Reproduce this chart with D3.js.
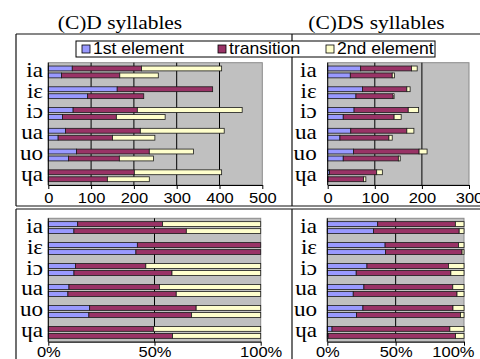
<!DOCTYPE html>
<html>
<head>
<meta charset="utf-8">
<script src="https://cdn.jsdelivr.net/npm/d3@7"></script>
<style>
  html, body { margin: 0; padding: 0; background: #fff; }
  svg { display: block; }
</style>
</head>
<body>
<svg width="480" height="359"></svg>
<script>
const categories = ['ia', 'iɛ', 'iɔ', 'ua', 'uo', 'ɥa']
const seriesKeys = ['first', 'trans', 'second']
const seriesNames = ['1st element', 'transition', '2nd element']
const colors = ['#9999ff', '#993366', '#ffffcc']

// (C)D syllables - two bars per category (upper, lower)
const cdFirst  = [56, 31, 161, 92, 58, 33, 40, 23, 66, 47, 0, 0]
const cdTrans  = [162, 136, 223, 131, 150, 126, 175, 127, 170, 119, 201, 138]
const cdSecond = [187, 90, 0, 0, 245, 114, 196, 99, 103, 80, 204, 98]

// (C)DS syllables
const dsFirst  = [70, 48, 74, 60, 56, 33, 49, 26, 55, 33, 4, 0.5]
const dsTrans  = [108, 89, 94, 79, 115, 108, 119, 104, 139, 117, 100, 75.5]
const dsSecond = [12, 5, 7, 2, 22, 15, 15, 7, 17, 4, 12, 5]

const cdTicks = [0, 100, 200, 300, 400, 500]
const dsTicks = [0, 100, 200, 300]
const pctTicks = [0, 0.5, 1]

const SANS = 'Liberation Sans, Arial, sans-serif'
const SERIF = 'Liberation Serif, Times New Roman, DejaVu Serif, serif'

function rows (first, trans, second) {
  return categories.flatMap((c, i) => [0, 1].map(j => {
    const k = i * 2 + j
    return { cat: c, bar: j, first: first[k], trans: trans[k], second: second[k] }
  }))
}

const svg = d3.select('svg')

// stretched text helper (the original looks a bit wide)
function label (parent, x, y, txt, size, family, anchor) {
  const g = parent.append('g').attr('transform', 'translate(' + x + ',' + y + ')')
  return g.append('text')
    .attr('transform', 'scale(1.1,1)')
    .attr('text-anchor', anchor || 'start')
    .style('font-family', family)
    .style('font-size', size + 'px')
    .attr('fill', '#000')
    .text(txt)
}

const panels = [
  { data: rows(cdFirst, cdTrans, cdSecond), ticks: cdTicks, fmt: d3.format('d'), x: [48.3, 262.3], y: [62.7, 185], labelX: 43, textY: 7 },
  { data: rows(dsFirst, dsTrans, dsSecond), ticks: dsTicks, fmt: d3.format('d'), x: [327.7, 469], y: [62.7, 185], labelX: 316.7, textY: 7 },
  { data: rows(cdFirst, cdTrans, cdSecond), ticks: pctTicks, fmt: d3.format('.0%'), x: [48.3, 260.7], y: [218.3, 341.7], labelX: 43, textY: 4.5, expand: true },
  { data: rows(dsFirst, dsTrans, dsSecond), ticks: pctTicks, fmt: d3.format('.0%'), x: [327.3, 464], y: [218.3, 341.7], labelX: 317, textY: 4.5, expand: true, lastEnd: 10 }
]

function drawPanel (p) {
  const x = d3.scaleLinear().domain(d3.extent(p.ticks)).range(p.x)
  const y0 = d3.scaleBand().domain(categories).range(p.y).paddingInner(0.43).paddingOuter(0.16)
  const y1 = d3.scaleBand().domain([0, 1]).range([0, y0.bandwidth()]).paddingInner(0.3)

  const stack = d3.stack().keys(seriesKeys)
  if (p.expand) stack.offset(d3.stackOffsetExpand)
  const layers = stack(p.data)

  const g = svg.append('g')

  g.append('rect')
    .attr('x', p.x[0]).attr('y', p.y[0])
    .attr('width', p.x[1] - p.x[0]).attr('height', p.y[1] - p.y[0])
    .attr('fill', '#c0c0c0')
    .attr('stroke', '#8a8a8a')

  g.selectAll('line.grid')
    .data(p.ticks.slice(1, -1))
    .join('line')
      .attr('class', 'grid')
      .attr('x1', d => x(d)).attr('x2', d => x(d))
      .attr('y1', p.y[0]).attr('y2', p.y[1])
      .attr('stroke', '#000')
      .attr('stroke-width', 1)

  g.selectAll('g.layer')
    .data(layers)
    .join('g')
      .attr('class', 'layer')
      .attr('fill', (d, i) => colors[i])
    .selectAll('rect')
    .data(d => d.filter(s => s[1] - s[0] > 0))
    .join('rect')
      .attr('x', d => x(d[0]))
      .attr('width', d => x(d[1]) - x(d[0]))
      .attr('y', d => y0(d.data.cat) + y1(d.data.bar))
      .attr('height', y1.bandwidth())
      .attr('stroke', '#1a1a1a')
      .attr('stroke-width', 0.8)

  // left axis line
  g.append('line')
    .attr('x1', p.x[0]).attr('x2', p.x[0])
    .attr('y1', p.y[0]).attr('y2', p.y[1])
    .attr('stroke', '#000')

  const axis = g.append('g')
    .attr('transform', 'translate(0,' + p.y[1] + ')')
    .call(d3.axisBottom(x).tickValues(p.ticks).tickFormat(p.fmt).tickSize(4).tickSizeOuter(0))
  axis.select('.domain').attr('stroke', '#000')
  axis.selectAll('.tick line').attr('stroke', '#000')
  axis.selectAll('.tick text')
    .attr('y', p.textY)
    .attr('transform', 'scale(1.1,1)')
    .attr('fill', '#000')
    .style('font-family', SANS)
    .style('font-size', '15px')

  // last label pulled inside the picture, as in the original
  if (p.lastEnd) {
    axis.selectAll('.tick text')
      .filter(d => d === p.ticks[p.ticks.length - 1])
      .attr('text-anchor', 'end')
      .attr('x', p.lastEnd / 1.1)
  }

  categories.forEach(c => {
    label(g, p.labelX, y0(c) + y0.bandwidth() / 2 + 5, c, 21, SERIF, 'end')
  })
}

// frame
const frame = [
  [16, 34, 480, 34], [16, 34, 16, 206], [16, 206, 480, 206], [292, 34, 292, 206],
  [16, 209, 480, 209], [16, 209, 16, 360], [292, 209, 292, 360]
]
svg.selectAll('line.frame')
  .data(frame)
  .join('line')
    .attr('class', 'frame')
    .attr('x1', d => d[0]).attr('y1', d => d[1])
    .attr('x2', d => d[2]).attr('y2', d => d[3])
    .attr('stroke', '#111')
    .attr('stroke-width', 1.2)

panels.forEach(drawPanel)

// titles
label(svg, 120, 28.5, '(C)D syllables', 19.5, SERIF, 'middle')
label(svg, 376.5, 28.5, '(C)DS syllables', 19.5, SERIF, 'middle')

// legend
const legend = svg.append('g')
legend.append('rect')
  .attr('x', 76).attr('y', 41).attr('width', 359).attr('height', 16)
  .attr('fill', '#fff').attr('stroke', '#000').attr('stroke-width', 1)
const legendX = [82, 218, 326]
seriesNames.forEach((name, i) => {
  legend.append('rect')
    .attr('x', legendX[i]).attr('y', 45)
    .attr('width', 8).attr('height', 8)
    .attr('fill', colors[i]).attr('stroke', '#000').attr('stroke-width', 0.8)
  label(legend, legendX[i] + 11, 54, name, 16, SANS, 'start')
})
</script>
</body>
</html>
